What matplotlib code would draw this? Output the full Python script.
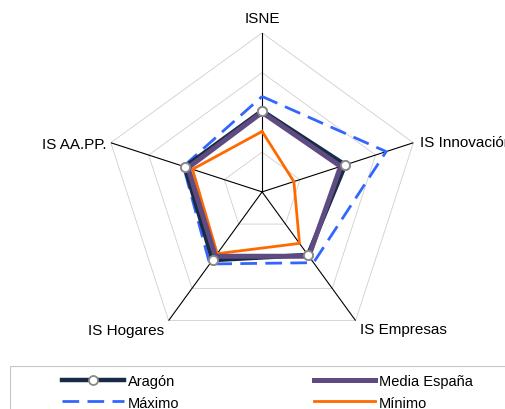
import numpy as np
import matplotlib
matplotlib.use("Agg")
from matplotlib import pyplot as plt
from matplotlib.patches import Rectangle

plt.rcParams['font.family'] = ['Liberation Sans', 'DejaVu Sans']

categories = ["ISNE", "IS Innovación", "IS Empresas", "IS Hogares", "IS AA.PP."]
aragon = [51, 55, 49, 53, 51]
media_espana = [50, 52, 50, 50, 49]
maximo = [60, 82, 55, 56, 52]
minimo = [38, 21, 40, 48, 46]
levels = [25, 50, 75, 100]


def closed(vals):
    return list(vals) + [vals[0]]


def main():
    fig = plt.figure(figsize=(5.05, 4.10), dpi=100)
    ax = fig.add_axes([0.204, 0.1415, 0.63, 0.776], projection="polar")
    ax.set_theta_offset(np.pi / 2)
    ax.set_theta_direction(-1)
    ax.set_ylim(0, 100)
    ax.set_xticks([])
    ax.set_yticks([])
    ax.grid(False)
    ax.spines["polar"].set_visible(False)

    n = len(categories)
    angles = np.linspace(0, 2 * np.pi, n, endpoint=False)
    ang = closed(list(angles))

    # pentagon grid + spokes
    for lvl in levels:
        ax.plot(ang, [lvl] * (n + 1), color="#cfcfcf", lw=0.6, zorder=1)
    for a in angles:
        ax.plot([a, a], [0, 100], color="black", lw=0.8, zorder=2)

    ax.plot(ang, closed(maximo), color="#3366ff", lw=2, dashes=(6, 3), zorder=3, label="Máximo")
    ax.plot(ang, closed(minimo), color="#ff6a00", lw=2, zorder=3, label="Mínimo")
    ax.plot(ang, closed(aragon), color="#172b46", lw=3.2, zorder=4, label="Aragón",
            marker="o", ms=6.5, mfc="white", mec="#8a8a8a", mew=1.3)
    ax.plot(ang, closed(media_espana), color="#5f4b82", lw=3.6, zorder=5, label="Media España")
    # markers on top
    ax.plot(angles, aragon, ls="none", marker="o", ms=6.5, mfc="white", mec="#8a8a8a",
            mew=1.3, zorder=6)

    offsets = [((0, 15), "center", "center"),
               ((7, 1), "left", "center"),
               ((4, -8), "left", "center"),
               ((-4, -9), "right", "center"),
               ((-4, -1), "right", "center")]
    for a, name, (off, ha, va) in zip(angles, categories, offsets):
        ax.annotate(name, xy=(a, 100), xytext=off, textcoords="offset pixels",
                    ha=ha, va=va, fontsize=11, annotation_clip=False)

    handles, labels = ax.get_legend_handles_labels()
    order = [labels.index(k) for k in ["Aragón", "Máximo", "Media España", "Mínimo"]]
    fig.legend([handles[i] for i in order], [labels[i] for i in order],
               ncol=2, loc="upper left", bbox_to_anchor=(55 / 505, 1 - 368 / 410),
               frameon=False, borderpad=0, handlelength=4.2, handletextpad=0.3,
               columnspacing=9.2, labelspacing=0.5, fontsize=10.5)
    fig.patches.append(Rectangle((10 / 505, -0.05), 1.0, 1 - 367 / 410 + 0.05,
                                 transform=fig.transFigure, fill=False,
                                 edgecolor="#c8c8c8", lw=0.8))

    fig.savefig("out.png", dpi=100)


if __name__ == '__main__':
    main()
